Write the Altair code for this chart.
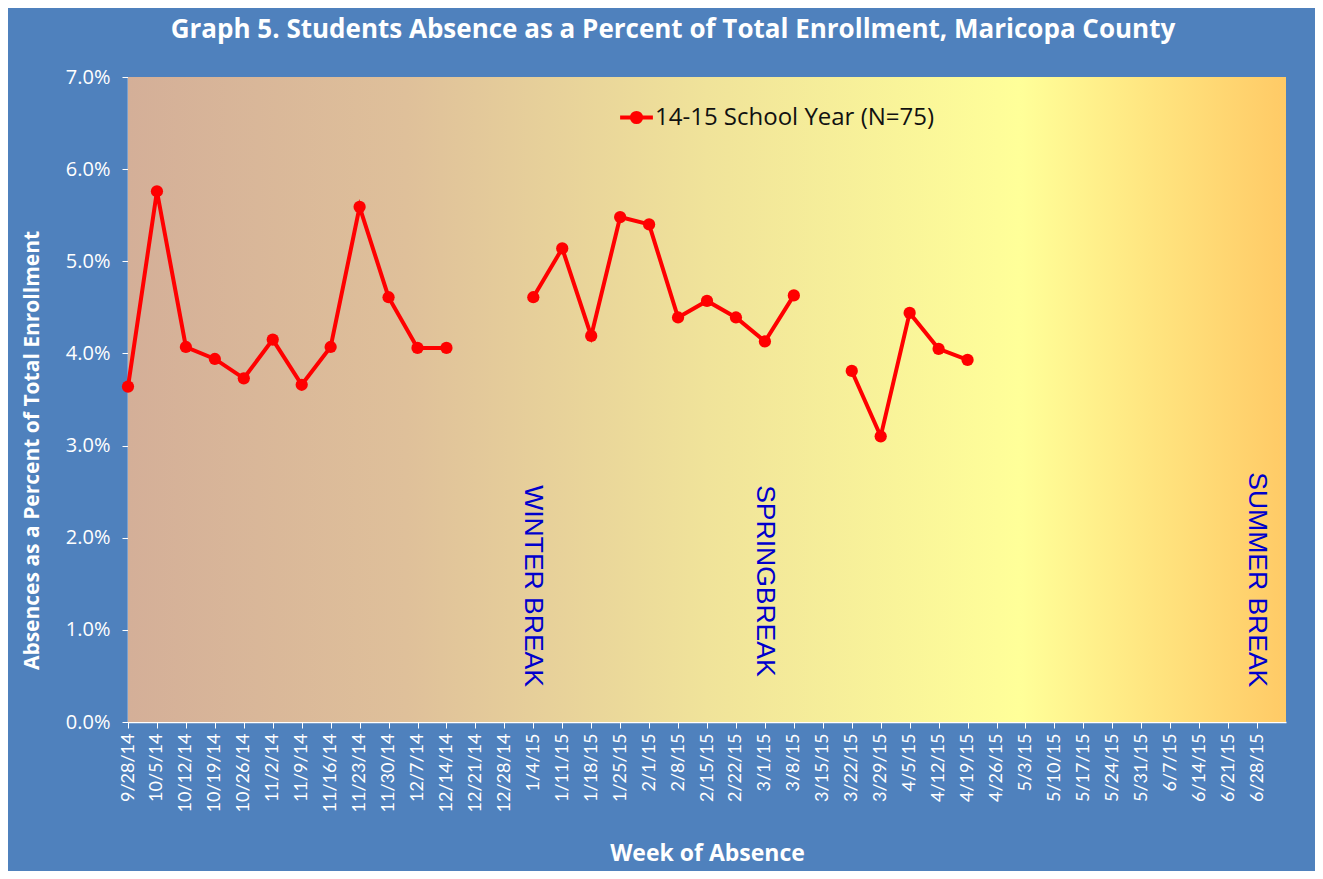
import altair as alt
import pandas as pd

weeks = ["9/28/14","10/5/14","10/12/14","10/19/14","10/26/14","11/2/14","11/9/14","11/16/14",
         "11/23/14","11/30/14","12/7/14","12/14/14","12/21/14","12/28/14","1/4/15","1/11/15",
         "1/18/15","1/25/15","2/1/15","2/8/15","2/15/15","2/22/15","3/1/15","3/8/15","3/15/15",
         "3/22/15","3/29/15","4/5/15","4/12/15","4/19/15","4/26/15","5/3/15","5/10/15","5/17/15",
         "5/24/15","5/31/15","6/7/15","6/14/15","6/21/15","6/28/15"]
absence = [3.64, 5.76, 4.07, 3.94, 3.73, 4.15, 3.66, 4.07, 5.59, 4.61, 4.06, 4.06, None, None,
           4.61, 5.14, 4.19, 5.48, 5.40, 4.39, 4.57, 4.39, 4.13, 4.63, None,
           3.81, 3.10, 4.44, 4.05, 3.93, None, None, None, None, None, None, None, None, None, None]
series_name = "14-15 School Year (N=75)"

break_labels = ["WINTER BREAK", "SPRINGBREAK", "SUMMER BREAK"]
break_weeks = ["1/4/15", "3/1/15", "6/28/15"]
break_tops = [2.57, 2.57, 2.71]

df = pd.DataFrame({
    "idx": list(range(len(weeks))),
    "week": weeks,
    "pct": [None if v is None else v / 100 for v in absence],
    "series": series_name,
})
ann = pd.DataFrame({
    "idx": [weeks.index(w) for w in break_weeks],
    "label": break_labels,
    "pct": [t / 100 for t in break_tops],
})

W, H = 1158, 645
label_expr = "[" + ",".join("'%s'" % w for w in weeks) + "][datum.value]"

x_scale = alt.Scale(domain=[0, len(weeks)], nice=False, zero=False)
y_scale = alt.Scale(domain=[0, 0.07], nice=False)

x_axis = alt.Axis(
    title="Week of Absence", values=list(range(len(weeks))), labelExpr=label_expr,
    labelAngle=-90, labelFontSize=18, labelColor="white", labelFont="Lato",
    labelOverlap=False, labelBound=False, labelFlush=False, labelPadding=5,
    tickColor="white", tickSize=6,
    domainColor="white", domainWidth=1.5, grid=False,
    titleFont="Open Sans", titleFontSize=23, titleFontWeight="bold",
    titleColor="white", titlePadding=31,
)
y_axis = alt.Axis(
    title="Absences as a Percent of Total Enrollment", format=".1%", values=[i / 100 for i in range(8)],
    labelFontSize=20, labelColor="white", labelFont="Open Sans", labelPadding=12,
    tickColor="white", tickSize=6, domainColor="white", domainWidth=1.5, grid=False,
    titleFont="Open Sans", titleFontSize=21, titleFontWeight="bold", titleColor="white",
    titleX=-86, titleY=373, titleAngle=-90, titleAlign="center", titleBaseline="bottom",
)

bg = alt.Chart(pd.DataFrame({"a": [0]})).mark_rect(
    fill=alt.LinearGradient(
        gradient="linear", x1=0, x2=1, y1=0, y2=0,
        stops=[
            alt.GradientStop(offset=0, color="#D4AF98"),
            alt.GradientStop(offset=0.24, color="#DFC09A"),
            alt.GradientStop(offset=0.5, color="#F0E39A"),
            alt.GradientStop(offset=0.77, color="#FFFF99"),
            alt.GradientStop(offset=1, color="#FFCA66"),
        ],
    )
).encode(x=alt.value(0), x2=alt.value(W), y=alt.value(0), y2=alt.value(H))

legend_symbol = "M -1.6 0 L 1.6 0 M 0.45 0 A 0.45 0.45 0 1 1 -0.45 0 A 0.45 0.45 0 1 1 0.45 0"

texts = alt.Chart(ann).mark_text(
    angle=90, align="left", baseline="middle", fontSize=26.5, color="#0000CC",
    font="Liberation Sans",
).encode(
    x=alt.X("idx:Q", scale=x_scale, axis=x_axis),
    y=alt.Y("pct:Q", scale=y_scale, axis=y_axis),
    text="label:N",
)

line = alt.Chart(df).mark_line(
    color="#FF0000", strokeWidth=4, invalid="break-paths-filter-domains",
    point=alt.OverlayMarkDef(filled=True, size=150, color="#FF0000"),
).encode(
    x=alt.X("idx:Q", scale=x_scale, axis=x_axis),
    y=alt.Y("pct:Q", scale=y_scale, axis=y_axis),
    color=alt.Color("series:N", scale=alt.Scale(range=["#FF0000"]),
                    legend=alt.Legend(title=None, orient="none", legendX=496, legendY=28,
                                      symbolType=legend_symbol, symbolSize=420,
                                      symbolStrokeWidth=4, symbolFillColor="#FF0000",
                                      symbolStrokeColor="#FF0000", labelFont="Open Sans",
                                      labelFontSize=24, labelColor="#111111", labelLimit=400,
                                      labelOffset=6)),
)

chart = alt.layer(bg, texts, line).properties(
    width=W, height=H,
    background="#4F81BD",
    padding={"left": 120, "top": 69, "right": 29, "bottom": 149},
    autosize=alt.AutoSizeParams(type="none"),
    title=alt.TitleParams(
        "Graph 5. Students Absence as a Percent of Total Enrollment,  Maricopa County",
        font="Open Sans", fontSize=26, fontWeight="bold", color="white",
        anchor="middle", offset=24, dx=-34,
    ),
).configure_view(strokeWidth=0).configure_axisX(labelOverlap=False)

chart.save("out.html", embed_options={"renderer": "svg", "actions": False})
